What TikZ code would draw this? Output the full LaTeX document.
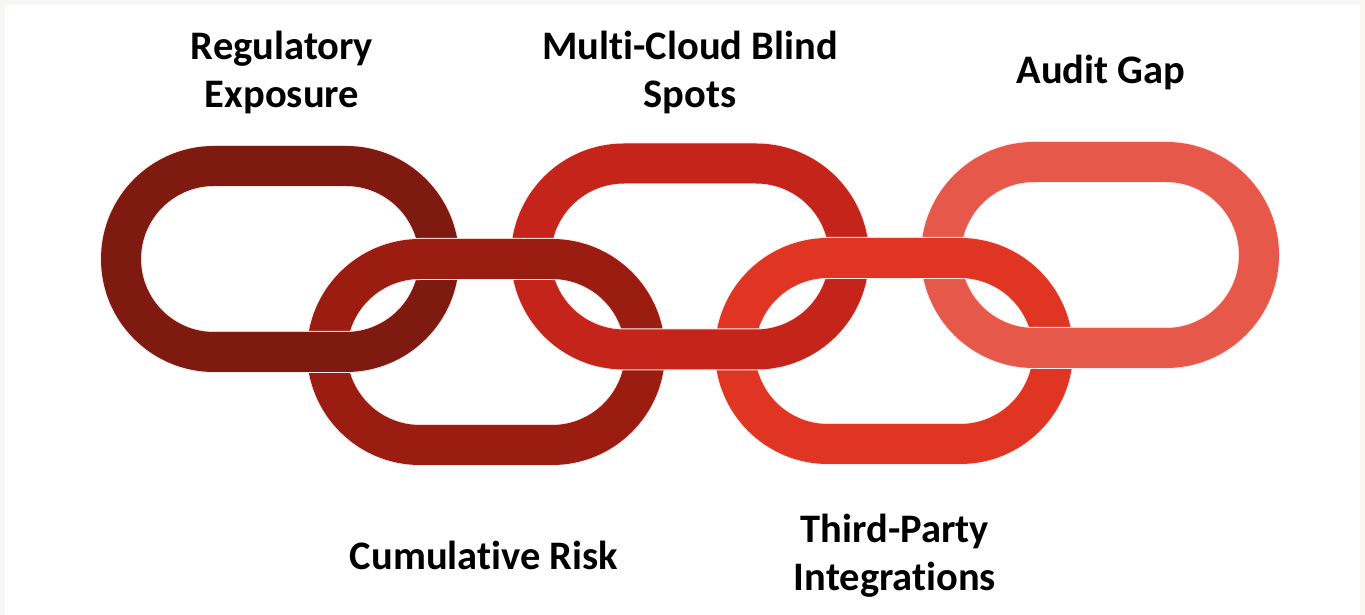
\documentclass[tikz,border=0pt]{standalone}
\usepackage{fontspec}
\setmainfont{Carlito}[Ligatures=NoCommon]
\definecolor{pagebg}{HTML}{F7F6F0}
\definecolor{linkA}{HTML}{7F1A10}
\definecolor{linkB}{HTML}{9B1D12}
\definecolor{linkC}{HTML}{C4241A}
\definecolor{linkD}{HTML}{E03523}
\definecolor{linkE}{HTML}{E5584A}
\newcommand\chainlink[3]{%
  \draw[linkstroke, double=#3]
    ({#1-66},{#2+93}) -- ({#1+66},{#2+93})
    arc[start angle=90, end angle=-90, radius=93]
    -- ({#1-66},{#2-93})
    arc[start angle=270, end angle=90, radius=93] -- cycle;}
\tikzset{
  linkstroke/.style={draw=white!92!red, line width=1pt, double distance=40pt},
  label/.style={font=\fontsize{40.5}{48}\selectfont\bfseries, text=black, align=center, anchor=base, inner sep=0pt}
}
\begin{document}
\begin{tikzpicture}[x=1pt,y=1pt]
\useasboundingbox (0,0) rectangle (1365,615);
\fill[pagebg] (0,0) rectangle (1365,615);
\fill[white] (5,0) rectangle (1360,610);
% top links
\chainlink{280}{356}{linkA}
\chainlink{690}{358.5}{linkC}
\chainlink{1100}{360}{linkE}
% bottom links
\chainlink{486}{263}{linkB}
\chainlink{894}{264}{linkD}
% lower halves of top links pass over the bottom links
\begin{scope}
  \clip (0,0) rectangle (1365,318);
  \chainlink{280}{356}{linkA}
  \chainlink{690}{358.5}{linkC}
  \chainlink{1100}{360}{linkE}
\end{scope}
% labels (anchor base = last line's baseline)
\node[label] (t1) at (282,507) {Regulatory\\Exposure};
\node[label] (t2) at (690,507) {Multi-Cloud Blind\\Spots};
\node[label] (t3) at (1101,531) {Audit Gap};
\node[label] (t4) at (484,45) {Cumulative Risk};
\node[label] (t5) at (895,24) {Third-Party\\Integrations};
\end{tikzpicture}
\end{document}
